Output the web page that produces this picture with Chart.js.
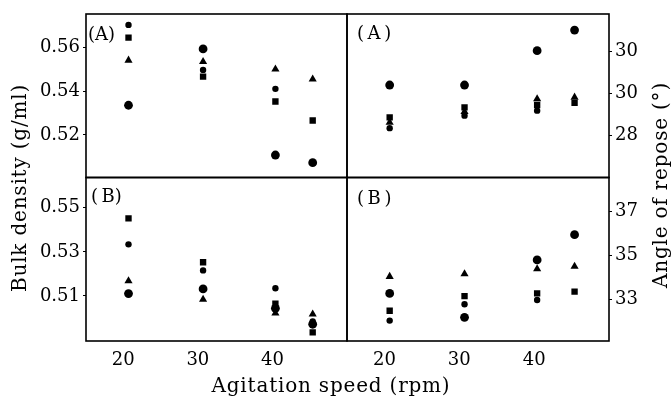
<!DOCTYPE html>
<html>
<head>
<meta charset="utf-8">
<script src="https://cdn.jsdelivr.net/npm/chart.js@4/dist/chart.umd.min.js"></script>
<style>
  html, body { margin: 0; padding: 0; background: #fff; }
  #wrap { position: relative; width: 672px; height: 399px; }
  #wrap canvas { position: absolute; left: 0; top: 0; }
</style>
</head>
<body>
<div id="wrap">
  <canvas id="pTL" width="672" height="399"></canvas>
  <canvas id="pTR" width="672" height="399"></canvas>
  <canvas id="pBL" width="672" height="399"></canvas>
  <canvas id="pBR" width="672" height="399"></canvas>
</div>
<script>
// Agitation speeds (rpm) at which each group of samples was measured
const speeds = [20.7, 30.7, 40.4, 45.4];
const speedTicks = [20, 30, 40];

// Bulk density (g/ml), group A
const densA_bigCircle   = [0.5336, 0.5594, 0.5108, 0.5073];
const densA_smallCircle = [0.5704, 0.5498, 0.5411, null];
const densA_square      = [0.5646, 0.5467, 0.5353, 0.5266];
const densA_triangle    = [0.5542, 0.5536, 0.5501, 0.5455];
const densATicks = [0.52, 0.54, 0.56];

// Bulk density (g/ml), group B
const densB_bigCircle   = [0.5111, 0.5132, 0.5044, 0.4972];
const densB_smallCircle = [0.5334, 0.5216, 0.5135, 0.4985];
const densB_square      = [0.5452, 0.5253, 0.5065, 0.4935];
const densB_triangle    = [0.5168, 0.5084, 0.5022, 0.5018];
const densBTicks = [0.51, 0.53, 0.55];

// Angle of repose (°), group A
const angA_bigCircle   = [30.40, 30.40, 32.05, 33.04];
const angA_smallCircle = [28.33, 28.93, 29.17, null];
const angA_square      = [28.85, 29.33, 29.44, 29.54];
const angA_triangle    = [28.60, 29.12, 29.73, 29.81];
const angATicks = [28, 30, 32];
const angATickLabels = ['28', '30', '30'];

// Angle of repose (°), group B
const angB_bigCircle   = [33.27, 32.18, 34.80, 35.95];
const angB_smallCircle = [32.03, 32.78, 32.97, null];
const angB_square      = [32.48, 33.15, 33.27, 33.35];
const angB_triangle    = [34.04, 34.16, 34.39, 34.50];
const angBTicks = [33, 35, 37];

const FONT = "'DejaVu Serif', 'Liberation Serif', serif";
const W = 672, H = 399;
// plot-area frame of the 2x2 grid
const X0 = 86, XM = 347, X1 = 609;
const Y0 = 14, YM = 177.5, Y1 = 341;

const markers = [
  { style: 'circle',   radius: 4.4 },
  { style: 'circle',   radius: 3.2 },
  { style: 'rect',     radius: 4.5 },
  { style: 'triangle', radius: 4.7 }
];

function pts(vals) {
  return speeds.map((x, i) => ({ x, y: vals[i] })).filter(p => p.y !== null);
}

function makeDatasets(series) {
  return series.map((vals, i) => ({
    data: pts(vals),
    pointStyle: markers[i].style,
    pointRadius: markers[i].radius,
    pointBackgroundColor: '#000',
    pointBorderColor: '#000',
    pointBorderWidth: 0,
    showLine: false
  }));
}

const frame = {
  id: 'frame',
  afterDraw(chart, args, opts) {
    const { ctx, chartArea: a } = chart;
    ctx.save();
    ctx.strokeStyle = '#000';
    ctx.lineWidth = 1.6;
    ctx.strokeRect(a.left, a.top, a.right - a.left, a.bottom - a.top);
    ctx.fillStyle = '#000';
    ctx.font = '18px ' + FONT;
    ctx.textBaseline = 'alphabetic';
    ctx.textAlign = 'left';
    ctx.fillText(opts.label, a.left + opts.dx, a.top + opts.dy);
    ctx.restore();
  }
};

const axisTitles = {
  id: 'axisTitles',
  afterDraw(chart) {
    const ctx = chart.ctx;
    ctx.save();
    ctx.fillStyle = '#000';
    ctx.font = '20px ' + FONT;
    if ('letterSpacing' in ctx) ctx.letterSpacing = '0.8px';
    ctx.textAlign = 'center';
    ctx.textBaseline = 'alphabetic';
    ctx.fillText('Agitation speed (rpm)', 331, 392);
    ctx.save();
    ctx.translate(26, 188);
    ctx.rotate(-Math.PI / 2);
    ctx.fillText('Bulk density (g/ml)', 0, 0);
    ctx.restore();
    ctx.save();
    ctx.translate(667, 185);
    ctx.rotate(-Math.PI / 2);
    ctx.fillText('Angle of repose (°)', 0, 0);
    ctx.restore();
    ctx.restore();
  }
};

function panel(id, o) {
  const right = o.side === 'right';
  const scales = {
    x: {
      type: 'linear',
      min: 15, max: 50,
      display: o.showX,
      afterBuildTicks: s => { s.ticks = speedTicks.map(v => ({ value: v })); },
      afterFit: s => { s.height = o.showX ? H - Y1 : 0; },
      grid: { drawOnChartArea: false, drawTicks: false, color: '#000' },
      border: { display: false },
      ticks: { color: '#000', padding: 9, font: { family: FONT, size: 18 } }
    },
    y: {
      type: 'linear',
      position: right ? 'right' : 'left',
      min: o.min, max: o.max,
      afterBuildTicks: s => { s.ticks = o.ticks.map(v => ({ value: v })); },
      afterFit: s => { s.width = right ? W - X1 : X0; },
      grid: { drawOnChartArea: false, drawTicks: true, tickLength: 3, color: '#000', lineWidth: 1 },
      border: { display: false },
      ticks: {
        color: '#000', padding: 3,
        font: { family: FONT, size: 18 },
        callback: o.fmt
      }
    }
  };
  return new Chart(document.getElementById(id), {
    type: 'scatter',
    data: { datasets: makeDatasets(o.series) },
    options: {
      responsive: false,
      animation: false,
      events: [],
      layout: { padding: o.pad },
      scales,
      plugins: {
        legend: { display: false },
        tooltip: { enabled: false },
        frame: { label: o.label, dx: o.dx, dy: o.dy }
      }
    },
    plugins: o.extra ? [frame, axisTitles] : [frame]
  });
}

const fmt2 = v => v.toFixed(2);

panel('pTL', {
  side: 'left', showX: false,
  pad: { left: 0, right: W - XM, top: Y0, bottom: H - YM },
  min: 0.5005, max: 0.5754, ticks: densATicks, fmt: fmt2,
  series: [densA_bigCircle, densA_smallCircle, densA_square, densA_triangle],
  label: '(A)', dx: 2, dy: 26
});

panel('pTR', {
  side: 'right', showX: false,
  pad: { left: XM, right: 0, top: Y0, bottom: H - YM },
  min: 25.96, max: 33.81, ticks: angATicks,
  fmt: (v, i) => angATickLabels[i],
  series: [angA_bigCircle, angA_smallCircle, angA_square, angA_triangle],
  label: '(\u2009A\u2009)', dx: 10, dy: 25
});

panel('pBL', {
  side: 'left', showX: true,
  pad: { left: 0, right: W - XM, top: YM, bottom: 0 },
  min: 0.4896, max: 0.5637, ticks: densBTicks, fmt: fmt2,
  series: [densB_bigCircle, densB_smallCircle, densB_square, densB_triangle],
  label: '(\u2009B)', dx: 5, dy: 24
});

panel('pBR', {
  side: 'right', showX: true,
  pad: { left: XM, right: 0, top: YM, bottom: 0 },
  min: 31.10, max: 38.56, ticks: angBTicks, fmt: v => String(v),
  series: [angB_bigCircle, angB_smallCircle, angB_square, angB_triangle],
  label: '(\u2009B\u2009)', dx: 10, dy: 26,
  extra: true
});
</script>
</body>
</html>
